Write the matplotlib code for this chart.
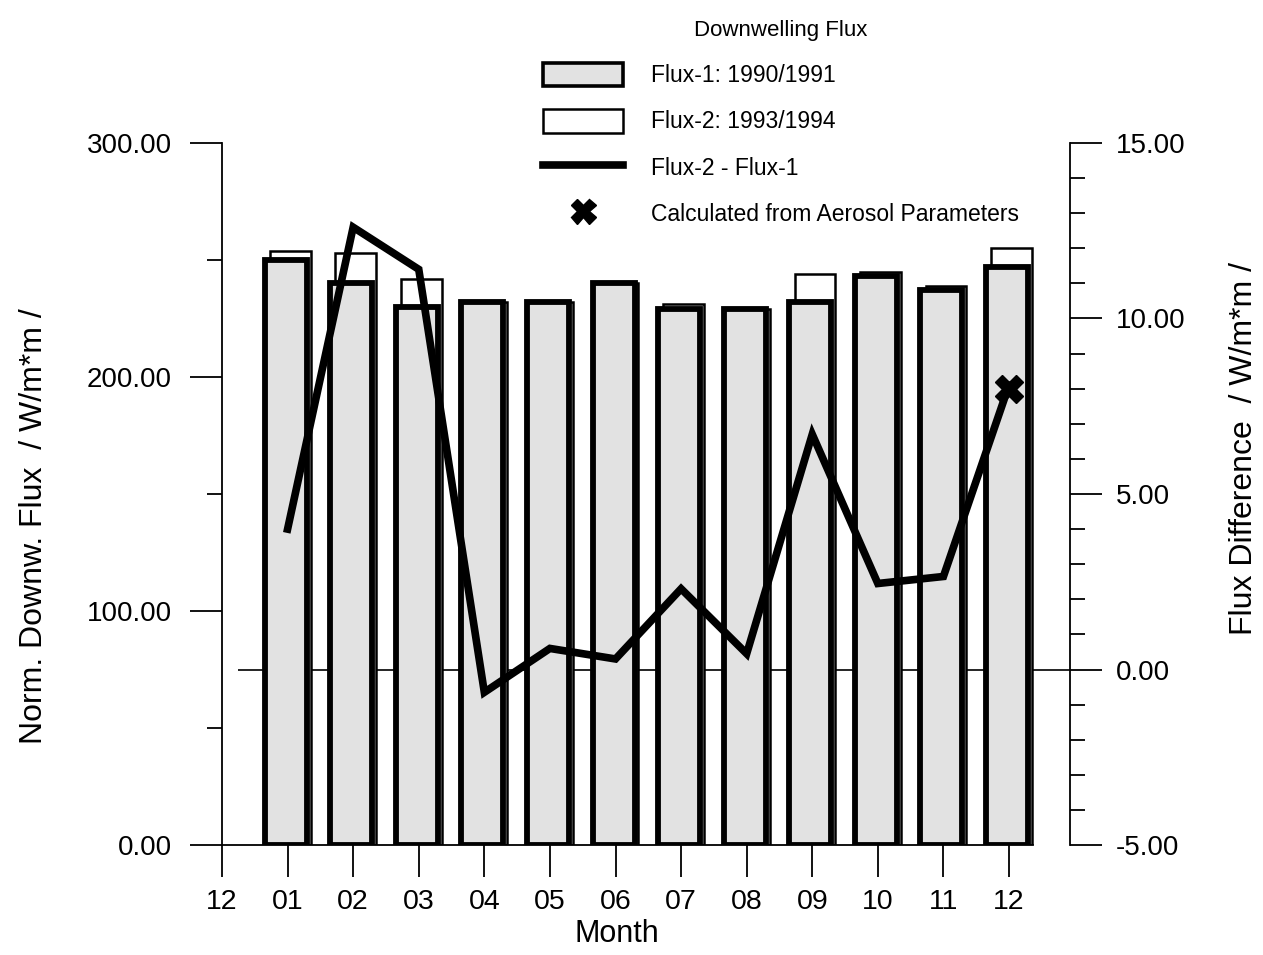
import matplotlib.pyplot as plt
from matplotlib.patches import Patch
from matplotlib.lines import Line2D
import numpy as np

plt.rcParams['font.family'] = ['Liberation Sans', 'DejaVu Sans']

month_labels = ['12', '01', '02', '03', '04', '05', '06', '07', '08', '09', '10', '11', '12']
months = np.arange(1, 13)

# Flux-1 (1990/1991) and Flux-2 (1993/1994), W/m*m
flux1 = [250, 240, 230, 232, 232, 240, 229, 229, 232, 243, 237, 247]
flux2 = [254, 253, 242, 232, 232, 240, 231, 229, 244, 245, 239, 255]
# Flux-2 - Flux-1 (right axis)
flux_diff = [4.0, 12.6, 11.4, -0.65, 0.6, 0.3, 2.3, 0.45, 6.7, 2.45, 2.65, 8.1]
# calculated from aerosol parameters
aerosol_month = [12]
aerosol_val = [8.0]

left_lim = (0, 300)
right_lim = (-5, 15)
gray = '#e2e2e2'

fig = plt.figure(figsize=(12.63, 9.55), dpi=100)
ax1 = fig.add_axes([222 / 1263, 1 - 845 / 955, 848 / 1263, 702 / 955])
ax2 = ax1.twinx()

# zero line of the difference axis, drawn behind the bars
zero_left = (0 - right_lim[0]) / (right_lim[1] - right_lim[0]) * (left_lim[1] - left_lim[0])
ax1.hlines(zero_left, 0.24, 12.93, color='black', lw=1.2, zorder=1)

ax1.bar(months + 0.04, flux2, width=0.62, color='white', edgecolor='black', linewidth=1.8, zorder=2)
ax1.bar(months - 0.03, flux1, width=0.64, color=gray, edgecolor='black', linewidth=4.2, zorder=3)

ax2.plot(months, flux_diff, color='black', lw=5.5, solid_joinstyle='miter', zorder=4)
ax2.plot(aerosol_month, aerosol_val, linestyle='none', marker='X', color='black', markersize=20, zorder=5)

ax1.set_xlim(0, 12.93)
ax1.set_ylim(*left_lim)
ax2.set_ylim(*right_lim)

ax1.set_xticks(range(0, 13))
ax1.set_xticklabels(month_labels)
ax1.set_yticks([0, 100, 200, 300])
ax1.set_yticklabels(['0.00', '100.00', '200.00', '300.00'])
ax1.set_yticks([50, 150, 250], minor=True)
ax2.set_yticks([-5, 0, 5, 10, 15])
ax2.set_yticklabels(['-5.00', '0.00', '5.00', '10.00', '15.00'])
ax2.set_yticks([v for v in range(-4, 15) if v % 5 != 0], minor=True)

for ax in (ax1, ax2):
    ax.tick_params(which='major', length=23, width=1.3, direction='out', labelsize=20, pad=10)
    ax.tick_params(which='minor', length=11, width=1.3, direction='out')
ax1.tick_params(axis='y', pad=13)
ax1.tick_params(axis='x', labelsize=20.5, pad=9)

ax1.spines['top'].set_visible(False)
ax1.spines['right'].set_visible(False)
ax1.spines['left'].set_bounds(0, 300)
ax1.spines['bottom'].set_bounds(0, 12.37)
for s in ('top', 'left', 'bottom'):
    ax2.spines[s].set_visible(False)
ax2.spines['right'].set_bounds(-5, 15)
for sp in list(ax1.spines.values()) + list(ax2.spines.values()):
    sp.set_linewidth(1.3)

ax1.set_ylabel('Norm. Downw. Flux  / W/m*m /', fontsize=23)
ax1.yaxis.set_label_coords(-0.204, 0.454)
ax2.set_ylabel('Flux Difference  / W/m*m /', fontsize=23)
ax2.yaxis.set_label_coords(1.1875, 0.565)
ax1.set_xlabel('Month', fontsize=22)
ax1.xaxis.set_label_coords(0.466, -0.106)

handles = [
    Patch(facecolor=gray, edgecolor='black', linewidth=2.6),
    Patch(facecolor='white', edgecolor='black', linewidth=1.8),
    Line2D([], [], color='black', lw=5.5),
    Line2D([], [], color='black', marker='X', linestyle='none', markersize=18),
]
labels = ['Flux-1: 1990/1991', 'Flux-2: 1993/1994', 'Flux-2 - Flux-1', 'Calculated from Aerosol Parameters']
fig.legend(handles, labels, loc='upper left', bbox_to_anchor=(543 / 1263, 1 - 20 / 955),
           frameon=False, title='Downwelling Flux', title_fontsize=16, fontsize=16.5,
           handlelength=3.5, handleheight=1.2, labelspacing=0.95, handletextpad=1.2,
           borderaxespad=0, borderpad=0, numpoints=1)

fig.savefig('out.png', dpi=100)
